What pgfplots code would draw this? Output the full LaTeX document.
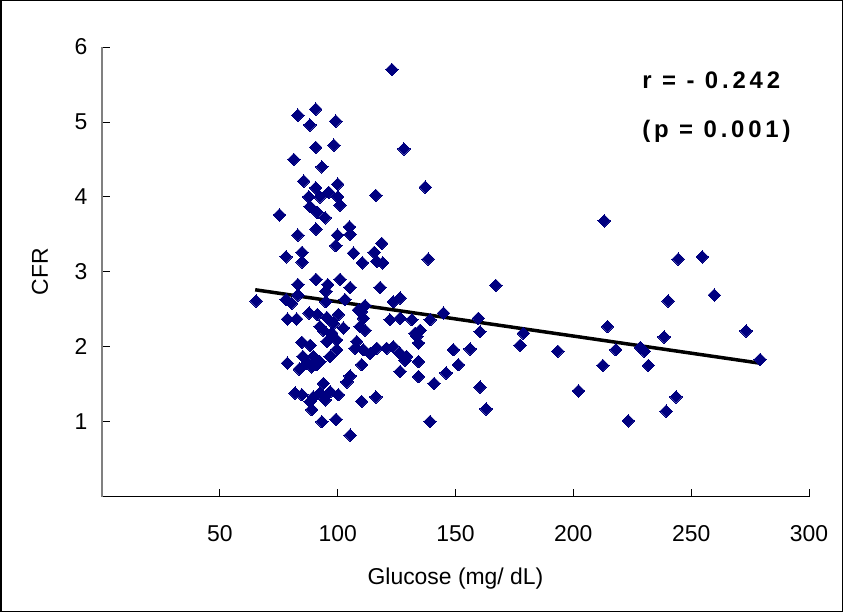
\documentclass[border=0pt]{standalone}
\usepackage{fontspec}
\setmainfont{Liberation Sans}
\newfontfamily\statfont[LetterSpace=16]{Liberation Sans}
\usepackage{pgfplots}
\usepackage{pgfplotstable}
\pgfplotsset{compat=1.18}
\definecolor{navy}{RGB}{0,0,128}
\pgfplotstableread{
x y
123.0 5.70
83.1 5.09
90.7 5.17
88.2 4.96
99.2 5.01
90.7 4.66
98.4 4.69
128.1 4.64
81.4 4.50
93.3 4.40
85.6 4.21
90.7 4.12
100.0 4.17
137.2 4.13
116.2 4.02
87.7 4.00
92.5 4.00
96.2 4.06
100.0 4.00
101.0 3.89
88.3 3.87
91.4 3.79
94.7 3.72
75.3 3.76
90.8 3.57
83.1 3.49
99.9 3.49
105.0 3.60
105.3 3.50
99.2 3.35
118.7 3.38
78.1 3.20
84.9 3.26
84.9 3.13
106.7 3.25
110.5 3.12
115.5 3.26
116.6 3.14
119.1 3.12
138.4 3.17
83.1 2.83
90.8 2.90
95.8 2.83
101.0 2.90
105.3 2.79
118.0 2.79
95.0 2.74
167.1 2.82
65.4 2.61
78.1 2.63
80.5 2.58
83.1 2.69
95.0 2.60
103.1 2.63
111.6 2.55
110.2 2.47
123.6 2.60
126.5 2.65
78.7 2.37
82.6 2.37
87.9 2.45
91.4 2.43
95.4 2.39
100.3 2.43
102.4 2.25
93.9 2.22
97.5 2.18
95.4 2.07
99.6 2.09
92.5 2.27
98.2 2.31
108.8 2.49
110.9 2.38
109.5 2.27
111.6 2.22
122.2 2.36
126.5 2.38
131.5 2.36
132.9 2.18
135.0 2.22
134.3 2.05
84.8 2.06
88.3 2.02
85.2 1.87
89.7 1.87
86.9 1.78
92.5 1.80
89.0 1.73
91.1 1.76
96.8 1.87
99.6 1.96
78.7 1.78
83.7 1.70
108.1 2.07
107.4 1.98
110.9 1.96
113.8 1.91
116.6 1.98
120.8 1.98
123.6 2.00
126.5 1.91
129.3 1.87
134.3 1.80
110.2 1.76
126.5 1.67
134.3 1.60
105.3 1.61
103.9 1.53
93.9 1.51
81.9 1.38
84.8 1.36
89.7 1.33
92.5 1.38
96.8 1.40
100.3 1.36
88.3 1.27
94.7 1.29
89.0 1.16
110.2 1.27
116.2 1.33
93.3 1.00
99.3 1.03
105.3 0.82
139.2 1.00
144.9 2.45
159.7 2.38
160.4 2.20
139.2 2.36
133.6 2.14
178.8 2.18
177.4 2.02
193.4 1.94
213.1 3.68
214.5 2.27
218.0 1.96
212.5 1.75
149.1 1.96
156.2 1.97
151.2 1.76
146.0 1.65
140.9 1.51
160.4 1.46
202.2 1.41
163.0 1.17
244.5 3.17
254.7 3.20
259.8 2.69
240.2 2.61
273.3 2.21
238.5 2.13
228.4 1.99
230.1 1.94
231.8 1.75
279.3 1.83
243.6 1.33
239.4 1.14
223.3 1.01
128.6 1.82
}\glucose
\begin{document}
\begin{tikzpicture}
\useasboundingbox (0,0) rectangle (843bp,612bp);
\draw[line width=1.5bp] (0.75bp,0.75bp) rectangle (842.25bp,611.25bp);
\begin{axis}[
  at={(102bp,115.4bp)}, anchor=south west,
  scale only axis, width=707bp, height=449.6bp,
  xmin=0, xmax=300, ymin=0, ymax=6,
  axis lines*=left,
  x axis line style={black, line width=1.3bp},
  y axis line style={gray, line width=1.5bp},
  tick align=inside,
  major tick length=8bp,
  tick style={black, line width=0.8bp},
  xtick={0,50,100,150,200,250,300},
  xticklabels={,50,100,150,200,250,300},
  ytick={0,1,2,3,4,5,6},
  yticklabels={,1,2,3,4,5,6},
  /pgf/number format/assume math mode=true,
  ticklabel style={font=\fontsize{23}{27}\selectfont},
  xticklabel style={yshift=-25bp},
  yticklabel style={xshift=-11bp},
  xlabel={Glucose (mg/ dL)},
  ylabel={CFR},
  every axis x label/.style={at={([yshift=-82bp]axis description cs:0.5,0)}, anchor=center, font=\fontsize{23}{27}\selectfont},
  every axis y label/.style={at={([xshift=-62bp]axis description cs:0,0.5)}, anchor=center, rotate=90, font=\fontsize{23}{27}\selectfont},
  clip=false,
]
\addplot[only marks, mark=square*, mark size=4.4bp, mark options={rotate=45, fill=navy, draw=navy, line width=0pt}] table[x=x, y=y] {\glucose};
\addplot[black, line width=3.5bp, mark=none] coordinates {(65,2.76) (279.3,1.78)};
\node[anchor=west, inner sep=0pt, font=\statfont\bfseries\fontsize{24}{28}\selectfont] at (axis cs:229.2,5.55) {r = - 0.242};
\node[anchor=west, inner sep=0pt, font=\statfont\bfseries\fontsize{24}{28}\selectfont] at (axis cs:229.2,4.88) {(p = 0.001)};
\end{axis}
\end{tikzpicture}
\end{document}
